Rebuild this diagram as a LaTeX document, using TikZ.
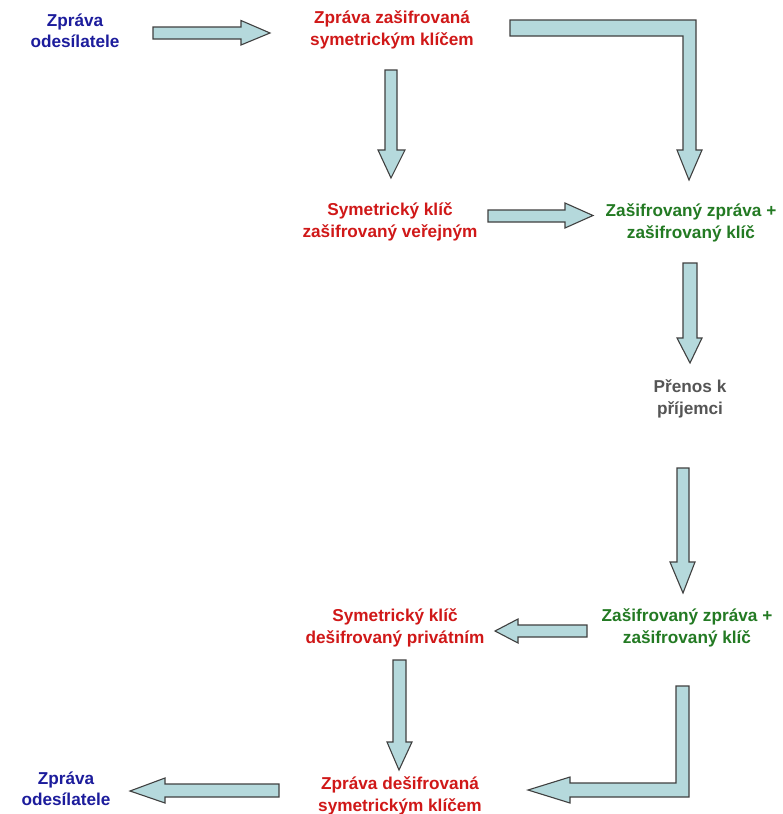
\documentclass[tikz,border=0pt]{standalone}
\usepackage{fontspec}
\setmainfont{Liberation Sans}
\definecolor{cblue}{HTML}{1C1C9C}
\definecolor{cred}{HTML}{D01818}
\definecolor{cgreen}{HTML}{237A23}
\definecolor{cgray}{HTML}{555555}
\definecolor{afill}{HTML}{B5D9DC}
\definecolor{aline}{HTML}{404040}
\begin{document}
\begin{tikzpicture}[x=1pt,y=-1pt,
  lbl/.style={align=center,font=\fontsize{17.2}{21.5}\selectfont\bfseries,inner sep=0pt},
  blockarrow/.style={fill=afill,draw=aline,line width=1.1pt,line join=miter}]
\useasboundingbox (0,0) rectangle (783,814);
\fill[white] (0,0) rectangle (783,814);
% text nodes
\node[lbl,text=cblue] (src1) at (75,31) {Zpráva\\odesílatele};
\node[lbl,text=cred] (enc1) at (392,30) {Zpráva zašifrovaná\\symetrickým klíčem};
\node[lbl,text=cred] (symenc) at (390,222) {Symetrický klíč\\zašifrovaný veřejným};
\node[lbl,text=cgreen] (comb1) at (691,223) {Zašifrovaný zpráva +\\zašifrovaný klíč};
\node[lbl,text=cgray] (trans) at (690,399) {Přenos k\\příjemci};
\node[lbl,text=cgreen] (comb2) at (687,628) {Zašifrovaný zpráva +\\zašifrovaný klíč};
\node[lbl,text=cred] (symdec) at (395,628) {Symetrický klíč\\dešifrovaný privátním};
\node[lbl,text=cred] (dec) at (400,796) {Zpráva dešifrovaná\\symetrickým klíčem};
\node[lbl,text=cblue] (src2) at (66,789) {Zpráva\\odesílatele};
% block arrows
% A1 right
\draw[blockarrow] (153,27) -- (241,27) -- (241,20.5) -- (270,33) -- (241,45) -- (241,39) -- (153,39) -- cycle;
% A2 down
\draw[blockarrow] (385,70) -- (397,70) -- (397,150) -- (405,150) -- (391,178) -- (378,150) -- (385,150) -- cycle;
% A3 L-shaped
\draw[blockarrow] (510,20) -- (696,20) -- (696,150) -- (702,150) -- (689,180) -- (677,150) -- (683,150) -- (683,36) -- (510,36) -- cycle;
% A4 right
\draw[blockarrow] (488,210) -- (565,210) -- (565,203) -- (593,215.5) -- (565,228) -- (565,222) -- (488,222) -- cycle;
% A5 down
\draw[blockarrow] (683,263) -- (697,263) -- (697,338) -- (702,338) -- (690,363) -- (677,338) -- (683,338) -- cycle;
% A6 down
\draw[blockarrow] (677,468) -- (689,468) -- (689,562) -- (695,562) -- (683,593) -- (670,562) -- (677,562) -- cycle;
% A7 left
\draw[blockarrow] (587,625) -- (518,625) -- (518,619) -- (495,631) -- (518,643) -- (518,637) -- (587,637) -- cycle;
% A8 down
\draw[blockarrow] (393,660) -- (406,660) -- (406,742) -- (412,742) -- (399,770) -- (387,742) -- (393,742) -- cycle;
% A9 L-shaped
\draw[blockarrow] (676,686) -- (689,686) -- (689,797) -- (570,797) -- (570,803) -- (528,790) -- (570,777) -- (570,783) -- (676,783) -- cycle;
% A10 left
\draw[blockarrow] (279,784) -- (165,784) -- (165,778) -- (130,791) -- (165,803) -- (165,797) -- (279,797) -- cycle;
\end{tikzpicture}
\end{document}
